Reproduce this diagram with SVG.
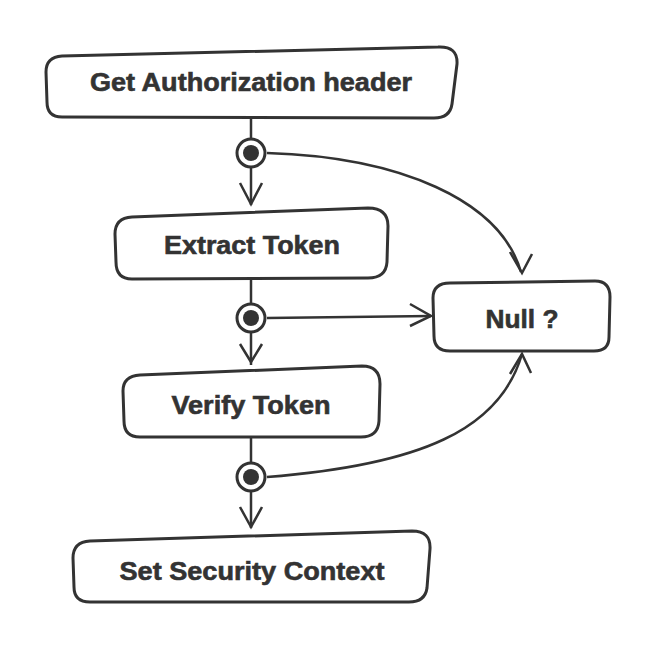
<svg xmlns="http://www.w3.org/2000/svg" width="659" height="650" viewBox="0 0 659 650">
<defs>
<style>
.box{fill:#fff;stroke:#333;stroke-width:3;stroke-linejoin:round}
.t{font-family:"Liberation Sans",Arial,sans-serif;font-weight:bold;font-size:25px;fill:#333;stroke:#333;stroke-width:0.6;text-anchor:middle}
.ln{fill:none;stroke:#333;stroke-width:2.5}
.ah{fill:none;stroke:#333;stroke-width:2.5;stroke-linejoin:miter}
</style>
</defs>
<rect width="659" height="650" fill="#fff"/>
<g id="connectors">
<line class="ln" x1="251" y1="118" x2="251" y2="205"/>
<path class="ah" d="M240,183 L251,204 L262,183"/>
<path class="ln" d="M267,153 C400,157 500,200 521,272"/>
<path class="ah" d="M510,252 L522,273 L532,254"/>
<line class="ln" x1="251" y1="278" x2="251" y2="365"/>
<line class="ln" x1="267" y1="318" x2="431" y2="316"/>
<path class="ah" d="M410,304 L431,316 L410,326"/>
<path class="ah" d="M240,344 L251,362 L262,344"/>
<line class="ln" x1="251" y1="437" x2="251" y2="528"/>
<path class="ln" d="M267,477 C420,465 500,430 522,354"/>
<path class="ah" d="M510,374 L522,354 L531,373"/>
<path class="ah" d="M240,507 L251,527 L262,507"/>
</g>
<g id="fork1"><circle cx="251" cy="153" r="14" fill="#fff" stroke="#333" stroke-width="3"/><circle cx="251" cy="153" r="8" fill="#333"/></g>
<g id="fork2"><circle cx="251" cy="318" r="14" fill="#fff" stroke="#333" stroke-width="3"/><circle cx="251" cy="318" r="8" fill="#333"/></g>
<g id="fork3"><circle cx="251" cy="477" r="14" fill="#fff" stroke="#333" stroke-width="3"/><circle cx="251" cy="477" r="8" fill="#333"/></g>
<g id="n1">
<path class="box" d="M62,56 L438,47 Q458,46 457,64 L452,104 Q450,118 434,118 L62,117 Q47,117 47,102 L46,72 Q46,57 62,56 Z"/>
<text class="t" x="251" y="91" textLength="322" lengthAdjust="spacingAndGlyphs">Get Authorization header</text>
</g>
<g id="n2">
<path class="box" d="M132,217 L368,208 Q388,208 388,226 L387,262 Q386,278 368,278 L132,279 Q116,279 116,262 L115,234 Q115,218 132,217 Z"/>
<text class="t" x="252" y="254" textLength="176" lengthAdjust="spacingAndGlyphs">Extract Token</text>
</g>
<g id="nnull">
<path class="box" d="M450,283 L595,281 Q610,281 610,297 L609,337 Q609,351 594,351 L450,351 Q434,351 434,336 L433,298 Q433,283 450,283 Z"/>
<text class="t" x="522" y="328" textLength="73" lengthAdjust="spacingAndGlyphs">Null ?</text>
</g>
<g id="n3">
<path class="box" d="M140,375 L362,366 Q380,366 380,384 L379,421 Q378,437 361,437 L140,437 Q124,437 124,421 L123,391 Q123,376 140,375 Z"/>
<text class="t" x="251" y="414" textLength="159" lengthAdjust="spacingAndGlyphs">Verify Token</text>
</g>
<g id="n4">
<path class="box" d="M90,541 L412,531 Q431,531 430,549 L427,588 Q425,602 409,602 L90,602 Q74,602 74,587 L73,558 Q73,542 90,541 Z"/>
<text class="t" x="252" y="580" textLength="265" lengthAdjust="spacingAndGlyphs">Set Security Context</text>
</g>
</svg>
